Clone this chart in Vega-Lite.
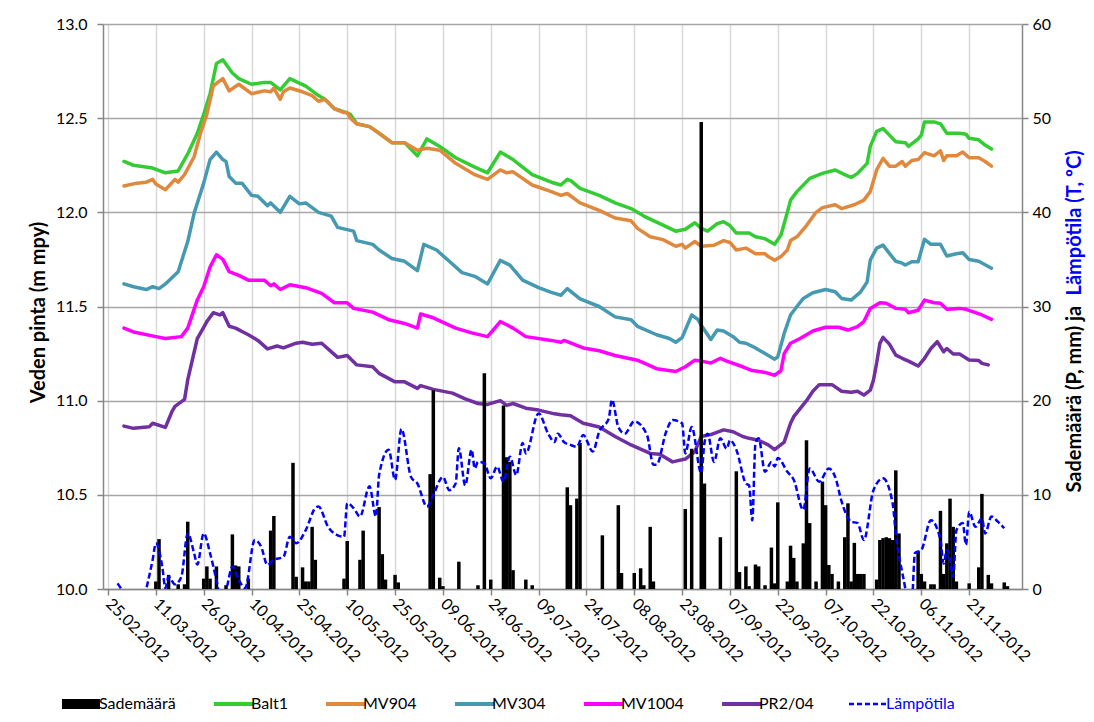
{
"$schema":"https://vega.github.io/schema/vega-lite/v6.json",
"width":919,"height":565,
"autosize":{"type":"none"},
"padding":{"left":103,"top":24,"right":72,"bottom":133},
"background":"white",
"config":{
 "font":"Lato",
 "view":{"stroke":null},
 "axis":{"labelFont":"Lato","labelFontSize":16,"labelColor":"#000000","titleFont":"Lato","titleFontSize":20,"titleFontWeight":"bold","titleColor":"#000000","domainColor":"#868686","domainWidth":1.5,"tickColor":"#868686","tickWidth":1.5,"tickSize":6},
 "legend":{"labelFont":"Lato","labelFontSize":16,"labelColor":"#000000"}
},
"datasets":{
"lvl":[
{"d":"2012-03-01","s":"Balt1","v":12.27},{"d":"2012-03-04","s":"Balt1","v":12.25},{"d":"2012-03-10","s":"Balt1","v":12.235},{"d":"2012-03-14","s":"Balt1","v":12.21},{"d":"2012-03-18","s":"Balt1","v":12.22},{"d":"2012-03-21","s":"Balt1","v":12.31},{"d":"2012-03-24","s":"Balt1","v":12.42},{"d":"2012-03-26","s":"Balt1","v":12.52},{"d":"2012-03-28","s":"Balt1","v":12.63},{"d":"2012-03-30","s":"Balt1","v":12.79},{"d":"2012-04-01","s":"Balt1","v":12.81},{"d":"2012-04-04","s":"Balt1","v":12.74},{"d":"2012-04-06","s":"Balt1","v":12.71},{"d":"2012-04-10","s":"Balt1","v":12.68},{"d":"2012-04-14","s":"Balt1","v":12.69},{"d":"2012-04-16","s":"Balt1","v":12.69},{"d":"2012-04-19","s":"Balt1","v":12.65},{"d":"2012-04-22","s":"Balt1","v":12.71},{"d":"2012-04-27","s":"Balt1","v":12.67},{"d":"2012-05-01","s":"Balt1","v":12.62},{"d":"2012-05-03","s":"Balt1","v":12.6},{"d":"2012-05-06","s":"Balt1","v":12.55},{"d":"2012-05-08","s":"Balt1","v":12.54},{"d":"2012-05-11","s":"Balt1","v":12.52},{"d":"2012-05-13","s":"Balt1","v":12.47},{"d":"2012-05-17","s":"Balt1","v":12.455},{"d":"2012-05-20","s":"Balt1","v":12.42},{"d":"2012-05-24","s":"Balt1","v":12.37},{"d":"2012-05-28","s":"Balt1","v":12.37},{"d":"2012-06-01","s":"Balt1","v":12.3},{"d":"2012-06-04","s":"Balt1","v":12.39},{"d":"2012-06-08","s":"Balt1","v":12.35},{"d":"2012-06-13","s":"Balt1","v":12.29},{"d":"2012-06-19","s":"Balt1","v":12.24},{"d":"2012-06-23","s":"Balt1","v":12.21},{"d":"2012-06-27","s":"Balt1","v":12.32},{"d":"2012-07-01","s":"Balt1","v":12.28},{"d":"2012-07-07","s":"Balt1","v":12.2},{"d":"2012-07-13","s":"Balt1","v":12.16},{"d":"2012-07-16","s":"Balt1","v":12.145},{"d":"2012-07-18","s":"Balt1","v":12.175},{"d":"2012-07-19","s":"Balt1","v":12.17},{"d":"2012-07-22","s":"Balt1","v":12.127},{"d":"2012-07-28","s":"Balt1","v":12.09},{"d":"2012-08-02","s":"Balt1","v":12.05},{"d":"2012-08-07","s":"Balt1","v":12.02},{"d":"2012-08-11","s":"Balt1","v":11.98},{"d":"2012-08-16","s":"Balt1","v":11.94},{"d":"2012-08-21","s":"Balt1","v":11.9},{"d":"2012-08-24","s":"Balt1","v":11.91},{"d":"2012-08-27","s":"Balt1","v":11.945},{"d":"2012-08-29","s":"Balt1","v":11.915},{"d":"2012-08-31","s":"Balt1","v":11.9},{"d":"2012-09-03","s":"Balt1","v":11.94},{"d":"2012-09-05","s":"Balt1","v":11.95},{"d":"2012-09-07","s":"Balt1","v":11.93},{"d":"2012-09-09","s":"Balt1","v":11.89},{"d":"2012-09-13","s":"Balt1","v":11.89},{"d":"2012-09-15","s":"Balt1","v":11.87},{"d":"2012-09-18","s":"Balt1","v":11.86},{"d":"2012-09-21","s":"Balt1","v":11.83},{"d":"2012-09-23","s":"Balt1","v":11.88},{"d":"2012-09-25","s":"Balt1","v":12.0},{"d":"2012-09-26","s":"Balt1","v":12.065},{"d":"2012-09-28","s":"Balt1","v":12.11},{"d":"2012-10-02","s":"Balt1","v":12.18},{"d":"2012-10-06","s":"Balt1","v":12.207},{"d":"2012-10-10","s":"Balt1","v":12.225},{"d":"2012-10-13","s":"Balt1","v":12.2},{"d":"2012-10-15","s":"Balt1","v":12.185},{"d":"2012-10-17","s":"Balt1","v":12.207},{"d":"2012-10-20","s":"Balt1","v":12.26},{"d":"2012-10-21","s":"Balt1","v":12.35},{"d":"2012-10-23","s":"Balt1","v":12.43},{"d":"2012-10-25","s":"Balt1","v":12.445},{"d":"2012-10-27","s":"Balt1","v":12.41},{"d":"2012-10-29","s":"Balt1","v":12.375},{"d":"2012-11-01","s":"Balt1","v":12.37},{"d":"2012-11-02","s":"Balt1","v":12.35},{"d":"2012-11-05","s":"Balt1","v":12.39},{"d":"2012-11-06","s":"Balt1","v":12.41},{"d":"2012-11-07","s":"Balt1","v":12.48},{"d":"2012-11-10","s":"Balt1","v":12.48},{"d":"2012-11-12","s":"Balt1","v":12.47},{"d":"2012-11-14","s":"Balt1","v":12.42},{"d":"2012-11-18","s":"Balt1","v":12.42},{"d":"2012-11-20","s":"Balt1","v":12.415},{"d":"2012-11-21","s":"Balt1","v":12.393},{"d":"2012-11-24","s":"Balt1","v":12.385},{"d":"2012-11-26","s":"Balt1","v":12.357},{"d":"2012-11-28","s":"Balt1","v":12.336},
{"d":"2012-03-01","s":"MV904","v":12.14},{"d":"2012-03-05","s":"MV904","v":12.155},{"d":"2012-03-08","s":"MV904","v":12.16},{"d":"2012-03-10","s":"MV904","v":12.175},{"d":"2012-03-11","s":"MV904","v":12.15},{"d":"2012-03-14","s":"MV904","v":12.12},{"d":"2012-03-17","s":"MV904","v":12.175},{"d":"2012-03-18","s":"MV904","v":12.16},{"d":"2012-03-20","s":"MV904","v":12.2},{"d":"2012-03-23","s":"MV904","v":12.295},{"d":"2012-03-25","s":"MV904","v":12.42},{"d":"2012-03-27","s":"MV904","v":12.52},{"d":"2012-03-29","s":"MV904","v":12.67},{"d":"2012-03-30","s":"MV904","v":12.685},{"d":"2012-04-01","s":"MV904","v":12.71},{"d":"2012-04-03","s":"MV904","v":12.645},{"d":"2012-04-06","s":"MV904","v":12.68},{"d":"2012-04-10","s":"MV904","v":12.63},{"d":"2012-04-14","s":"MV904","v":12.645},{"d":"2012-04-16","s":"MV904","v":12.64},{"d":"2012-04-17","s":"MV904","v":12.66},{"d":"2012-04-19","s":"MV904","v":12.6},{"d":"2012-04-20","s":"MV904","v":12.64},{"d":"2012-04-22","s":"MV904","v":12.66},{"d":"2012-04-26","s":"MV904","v":12.64},{"d":"2012-04-29","s":"MV904","v":12.62},{"d":"2012-05-01","s":"MV904","v":12.59},{"d":"2012-05-03","s":"MV904","v":12.6},{"d":"2012-05-06","s":"MV904","v":12.55},{"d":"2012-05-09","s":"MV904","v":12.53},{"d":"2012-05-10","s":"MV904","v":12.53},{"d":"2012-05-11","s":"MV904","v":12.5},{"d":"2012-05-13","s":"MV904","v":12.47},{"d":"2012-05-17","s":"MV904","v":12.455},{"d":"2012-05-20","s":"MV904","v":12.42},{"d":"2012-05-24","s":"MV904","v":12.37},{"d":"2012-05-28","s":"MV904","v":12.37},{"d":"2012-06-01","s":"MV904","v":12.33},{"d":"2012-06-04","s":"MV904","v":12.34},{"d":"2012-06-08","s":"MV904","v":12.33},{"d":"2012-06-13","s":"MV904","v":12.26},{"d":"2012-06-19","s":"MV904","v":12.2},{"d":"2012-06-23","s":"MV904","v":12.175},{"d":"2012-06-27","s":"MV904","v":12.225},{"d":"2012-06-29","s":"MV904","v":12.21},{"d":"2012-07-01","s":"MV904","v":12.215},{"d":"2012-07-07","s":"MV904","v":12.145},{"d":"2012-07-13","s":"MV904","v":12.11},{"d":"2012-07-16","s":"MV904","v":12.09},{"d":"2012-07-18","s":"MV904","v":12.1},{"d":"2012-07-22","s":"MV904","v":12.05},{"d":"2012-07-28","s":"MV904","v":12.01},{"d":"2012-08-02","s":"MV904","v":11.97},{"d":"2012-08-07","s":"MV904","v":11.955},{"d":"2012-08-09","s":"MV904","v":11.915},{"d":"2012-08-13","s":"MV904","v":11.87},{"d":"2012-08-17","s":"MV904","v":11.855},{"d":"2012-08-21","s":"MV904","v":11.82},{"d":"2012-08-23","s":"MV904","v":11.83},{"d":"2012-08-24","s":"MV904","v":11.81},{"d":"2012-08-27","s":"MV904","v":11.845},{"d":"2012-08-29","s":"MV904","v":11.82},{"d":"2012-09-02","s":"MV904","v":11.825},{"d":"2012-09-05","s":"MV904","v":11.85},{"d":"2012-09-07","s":"MV904","v":11.84},{"d":"2012-09-09","s":"MV904","v":11.8},{"d":"2012-09-12","s":"MV904","v":11.81},{"d":"2012-09-15","s":"MV904","v":11.78},{"d":"2012-09-18","s":"MV904","v":11.78},{"d":"2012-09-19","s":"MV904","v":11.765},{"d":"2012-09-21","s":"MV904","v":11.745},{"d":"2012-09-23","s":"MV904","v":11.765},{"d":"2012-09-25","s":"MV904","v":11.8},{"d":"2012-09-26","s":"MV904","v":11.85},{"d":"2012-09-28","s":"MV904","v":11.87},{"d":"2012-09-29","s":"MV904","v":11.89},{"d":"2012-10-01","s":"MV904","v":11.93},{"d":"2012-10-04","s":"MV904","v":12.0},{"d":"2012-10-06","s":"MV904","v":12.025},{"d":"2012-10-10","s":"MV904","v":12.04},{"d":"2012-10-12","s":"MV904","v":12.02},{"d":"2012-10-16","s":"MV904","v":12.04},{"d":"2012-10-19","s":"MV904","v":12.065},{"d":"2012-10-21","s":"MV904","v":12.11},{"d":"2012-10-23","s":"MV904","v":12.225},{"d":"2012-10-25","s":"MV904","v":12.287},{"d":"2012-10-27","s":"MV904","v":12.245},{"d":"2012-10-29","s":"MV904","v":12.245},{"d":"2012-10-31","s":"MV904","v":12.27},{"d":"2012-11-01","s":"MV904","v":12.245},{"d":"2012-11-03","s":"MV904","v":12.275},{"d":"2012-11-05","s":"MV904","v":12.28},{"d":"2012-11-07","s":"MV904","v":12.317},{"d":"2012-11-10","s":"MV904","v":12.3},{"d":"2012-11-12","s":"MV904","v":12.327},{"d":"2012-11-13","s":"MV904","v":12.275},{"d":"2012-11-14","s":"MV904","v":12.3},{"d":"2012-11-17","s":"MV904","v":12.3},{"d":"2012-11-19","s":"MV904","v":12.32},{"d":"2012-11-21","s":"MV904","v":12.29},{"d":"2012-11-24","s":"MV904","v":12.29},{"d":"2012-11-26","s":"MV904","v":12.27},{"d":"2012-11-28","s":"MV904","v":12.245},
{"d":"2012-03-01","s":"MV304","v":11.62},{"d":"2012-03-04","s":"MV304","v":11.605},{"d":"2012-03-08","s":"MV304","v":11.59},{"d":"2012-03-10","s":"MV304","v":11.605},{"d":"2012-03-12","s":"MV304","v":11.595},{"d":"2012-03-14","s":"MV304","v":11.62},{"d":"2012-03-18","s":"MV304","v":11.685},{"d":"2012-03-21","s":"MV304","v":11.845},{"d":"2012-03-23","s":"MV304","v":11.995},{"d":"2012-03-26","s":"MV304","v":12.155},{"d":"2012-03-28","s":"MV304","v":12.28},{"d":"2012-03-30","s":"MV304","v":12.32},{"d":"2012-04-01","s":"MV304","v":12.28},{"d":"2012-04-02","s":"MV304","v":12.27},{"d":"2012-04-03","s":"MV304","v":12.19},{"d":"2012-04-05","s":"MV304","v":12.155},{"d":"2012-04-07","s":"MV304","v":12.155},{"d":"2012-04-10","s":"MV304","v":12.09},{"d":"2012-04-12","s":"MV304","v":12.085},{"d":"2012-04-15","s":"MV304","v":12.035},{"d":"2012-04-16","s":"MV304","v":12.05},{"d":"2012-04-19","s":"MV304","v":12.0},{"d":"2012-04-22","s":"MV304","v":12.085},{"d":"2012-04-25","s":"MV304","v":12.045},{"d":"2012-04-27","s":"MV304","v":12.05},{"d":"2012-05-01","s":"MV304","v":12.0},{"d":"2012-05-05","s":"MV304","v":11.98},{"d":"2012-05-07","s":"MV304","v":11.92},{"d":"2012-05-12","s":"MV304","v":11.9},{"d":"2012-05-13","s":"MV304","v":11.85},{"d":"2012-05-18","s":"MV304","v":11.83},{"d":"2012-05-20","s":"MV304","v":11.8},{"d":"2012-05-24","s":"MV304","v":11.755},{"d":"2012-05-28","s":"MV304","v":11.74},{"d":"2012-06-01","s":"MV304","v":11.69},{"d":"2012-06-03","s":"MV304","v":11.83},{"d":"2012-06-07","s":"MV304","v":11.8},{"d":"2012-06-11","s":"MV304","v":11.74},{"d":"2012-06-15","s":"MV304","v":11.68},{"d":"2012-06-19","s":"MV304","v":11.66},{"d":"2012-06-23","s":"MV304","v":11.62},{"d":"2012-06-27","s":"MV304","v":11.745},{"d":"2012-06-30","s":"MV304","v":11.72},{"d":"2012-07-04","s":"MV304","v":11.64},{"d":"2012-07-09","s":"MV304","v":11.6},{"d":"2012-07-13","s":"MV304","v":11.575},{"d":"2012-07-16","s":"MV304","v":11.56},{"d":"2012-07-18","s":"MV304","v":11.595},{"d":"2012-07-22","s":"MV304","v":11.54},{"d":"2012-07-28","s":"MV304","v":11.5},{"d":"2012-08-02","s":"MV304","v":11.445},{"d":"2012-08-07","s":"MV304","v":11.43},{"d":"2012-08-09","s":"MV304","v":11.395},{"d":"2012-08-15","s":"MV304","v":11.35},{"d":"2012-08-19","s":"MV304","v":11.33},{"d":"2012-08-21","s":"MV304","v":11.31},{"d":"2012-08-23","s":"MV304","v":11.335},{"d":"2012-08-26","s":"MV304","v":11.455},{"d":"2012-08-28","s":"MV304","v":11.43},{"d":"2012-08-29","s":"MV304","v":11.4},{"d":"2012-09-01","s":"MV304","v":11.325},{"d":"2012-09-03","s":"MV304","v":11.375},{"d":"2012-09-05","s":"MV304","v":11.37},{"d":"2012-09-08","s":"MV304","v":11.34},{"d":"2012-09-10","s":"MV304","v":11.31},{"d":"2012-09-12","s":"MV304","v":11.305},{"d":"2012-09-15","s":"MV304","v":11.28},{"d":"2012-09-18","s":"MV304","v":11.25},{"d":"2012-09-21","s":"MV304","v":11.22},{"d":"2012-09-22","s":"MV304","v":11.233},{"d":"2012-09-24","s":"MV304","v":11.357},{"d":"2012-09-26","s":"MV304","v":11.455},{"d":"2012-09-28","s":"MV304","v":11.5},{"d":"2012-09-30","s":"MV304","v":11.543},{"d":"2012-10-03","s":"MV304","v":11.573},{"d":"2012-10-07","s":"MV304","v":11.59},{"d":"2012-10-10","s":"MV304","v":11.578},{"d":"2012-10-12","s":"MV304","v":11.543},{"d":"2012-10-15","s":"MV304","v":11.534},{"d":"2012-10-18","s":"MV304","v":11.578},{"d":"2012-10-20","s":"MV304","v":11.63},{"d":"2012-10-21","s":"MV304","v":11.747},{"d":"2012-10-23","s":"MV304","v":11.81},{"d":"2012-10-25","s":"MV304","v":11.826},{"d":"2012-10-27","s":"MV304","v":11.782},{"d":"2012-10-29","s":"MV304","v":11.74},{"d":"2012-10-31","s":"MV304","v":11.73},{"d":"2012-11-01","s":"MV304","v":11.72},{"d":"2012-11-03","s":"MV304","v":11.738},{"d":"2012-11-05","s":"MV304","v":11.738},{"d":"2012-11-07","s":"MV304","v":11.857},{"d":"2012-11-09","s":"MV304","v":11.83},{"d":"2012-11-12","s":"MV304","v":11.83},{"d":"2012-11-14","s":"MV304","v":11.768},{"d":"2012-11-17","s":"MV304","v":11.78},{"d":"2012-11-19","s":"MV304","v":11.785},{"d":"2012-11-21","s":"MV304","v":11.75},{"d":"2012-11-24","s":"MV304","v":11.74},{"d":"2012-11-28","s":"MV304","v":11.703},
{"d":"2012-03-01","s":"MV1004","v":11.385},{"d":"2012-03-04","s":"MV1004","v":11.365},{"d":"2012-03-11","s":"MV1004","v":11.34},{"d":"2012-03-14","s":"MV1004","v":11.33},{"d":"2012-03-19","s":"MV1004","v":11.34},{"d":"2012-03-21","s":"MV1004","v":11.385},{"d":"2012-03-24","s":"MV1004","v":11.535},{"d":"2012-03-26","s":"MV1004","v":11.605},{"d":"2012-03-28","s":"MV1004","v":11.71},{"d":"2012-03-30","s":"MV1004","v":11.775},{"d":"2012-04-01","s":"MV1004","v":11.75},{"d":"2012-04-03","s":"MV1004","v":11.685},{"d":"2012-04-06","s":"MV1004","v":11.665},{"d":"2012-04-09","s":"MV1004","v":11.64},{"d":"2012-04-14","s":"MV1004","v":11.64},{"d":"2012-04-16","s":"MV1004","v":11.61},{"d":"2012-04-17","s":"MV1004","v":11.62},{"d":"2012-04-19","s":"MV1004","v":11.59},{"d":"2012-04-22","s":"MV1004","v":11.615},{"d":"2012-04-27","s":"MV1004","v":11.6},{"d":"2012-05-02","s":"MV1004","v":11.57},{"d":"2012-05-06","s":"MV1004","v":11.52},{"d":"2012-05-10","s":"MV1004","v":11.52},{"d":"2012-05-12","s":"MV1004","v":11.49},{"d":"2012-05-18","s":"MV1004","v":11.47},{"d":"2012-05-23","s":"MV1004","v":11.43},{"d":"2012-05-28","s":"MV1004","v":11.41},{"d":"2012-06-01","s":"MV1004","v":11.385},{"d":"2012-06-02","s":"MV1004","v":11.46},{"d":"2012-06-06","s":"MV1004","v":11.44},{"d":"2012-06-13","s":"MV1004","v":11.385},{"d":"2012-06-18","s":"MV1004","v":11.36},{"d":"2012-06-23","s":"MV1004","v":11.34},{"d":"2012-06-27","s":"MV1004","v":11.42},{"d":"2012-07-01","s":"MV1004","v":11.385},{"d":"2012-07-05","s":"MV1004","v":11.34},{"d":"2012-07-13","s":"MV1004","v":11.32},{"d":"2012-07-16","s":"MV1004","v":11.31},{"d":"2012-07-17","s":"MV1004","v":11.32},{"d":"2012-07-23","s":"MV1004","v":11.28},{"d":"2012-07-28","s":"MV1004","v":11.265},{"d":"2012-08-02","s":"MV1004","v":11.24},{"d":"2012-08-09","s":"MV1004","v":11.215},{"d":"2012-08-15","s":"MV1004","v":11.17},{"d":"2012-08-21","s":"MV1004","v":11.155},{"d":"2012-08-24","s":"MV1004","v":11.18},{"d":"2012-08-27","s":"MV1004","v":11.215},{"d":"2012-08-29","s":"MV1004","v":11.21},{"d":"2012-09-01","s":"MV1004","v":11.2},{"d":"2012-09-04","s":"MV1004","v":11.225},{"d":"2012-09-06","s":"MV1004","v":11.21},{"d":"2012-09-11","s":"MV1004","v":11.18},{"d":"2012-09-14","s":"MV1004","v":11.16},{"d":"2012-09-18","s":"MV1004","v":11.15},{"d":"2012-09-21","s":"MV1004","v":11.135},{"d":"2012-09-23","s":"MV1004","v":11.16},{"d":"2012-09-24","s":"MV1004","v":11.25},{"d":"2012-09-26","s":"MV1004","v":11.305},{"d":"2012-09-29","s":"MV1004","v":11.33},{"d":"2012-10-03","s":"MV1004","v":11.37},{"d":"2012-10-07","s":"MV1004","v":11.39},{"d":"2012-10-11","s":"MV1004","v":11.39},{"d":"2012-10-14","s":"MV1004","v":11.375},{"d":"2012-10-17","s":"MV1004","v":11.393},{"d":"2012-10-19","s":"MV1004","v":11.42},{"d":"2012-10-21","s":"MV1004","v":11.49},{"d":"2012-10-24","s":"MV1004","v":11.52},{"d":"2012-10-26","s":"MV1004","v":11.517},{"d":"2012-10-29","s":"MV1004","v":11.49},{"d":"2012-11-01","s":"MV1004","v":11.485},{"d":"2012-11-02","s":"MV1004","v":11.467},{"d":"2012-11-05","s":"MV1004","v":11.48},{"d":"2012-11-07","s":"MV1004","v":11.534},{"d":"2012-11-10","s":"MV1004","v":11.52},{"d":"2012-11-12","s":"MV1004","v":11.517},{"d":"2012-11-14","s":"MV1004","v":11.485},{"d":"2012-11-18","s":"MV1004","v":11.49},{"d":"2012-11-20","s":"MV1004","v":11.485},{"d":"2012-11-23","s":"MV1004","v":11.467},{"d":"2012-11-25","s":"MV1004","v":11.455},{"d":"2012-11-28","s":"MV1004","v":11.432},
{"d":"2012-03-01","s":"PR2/04","v":10.865},{"d":"2012-03-04","s":"PR2/04","v":10.853},{"d":"2012-03-09","s":"PR2/04","v":10.862},{"d":"2012-03-10","s":"PR2/04","v":10.88},{"d":"2012-03-14","s":"PR2/04","v":10.858},{"d":"2012-03-16","s":"PR2/04","v":10.94},{"d":"2012-03-17","s":"PR2/04","v":10.97},{"d":"2012-03-20","s":"PR2/04","v":11.007},{"d":"2012-03-21","s":"PR2/04","v":11.11},{"d":"2012-03-24","s":"PR2/04","v":11.33},{"d":"2012-03-27","s":"PR2/04","v":11.42},{"d":"2012-03-29","s":"PR2/04","v":11.467},{"d":"2012-03-31","s":"PR2/04","v":11.455},{"d":"2012-04-01","s":"PR2/04","v":11.467},{"d":"2012-04-03","s":"PR2/04","v":11.395},{"d":"2012-04-05","s":"PR2/04","v":11.385},{"d":"2012-04-09","s":"PR2/04","v":11.35},{"d":"2012-04-12","s":"PR2/04","v":11.32},{"d":"2012-04-15","s":"PR2/04","v":11.275},{"d":"2012-04-18","s":"PR2/04","v":11.29},{"d":"2012-04-20","s":"PR2/04","v":11.28},{"d":"2012-04-24","s":"PR2/04","v":11.305},{"d":"2012-04-26","s":"PR2/04","v":11.31},{"d":"2012-04-29","s":"PR2/04","v":11.3},{"d":"2012-05-02","s":"PR2/04","v":11.305},{"d":"2012-05-07","s":"PR2/04","v":11.23},{"d":"2012-05-10","s":"PR2/04","v":11.24},{"d":"2012-05-13","s":"PR2/04","v":11.19},{"d":"2012-05-18","s":"PR2/04","v":11.18},{"d":"2012-05-20","s":"PR2/04","v":11.145},{"d":"2012-05-25","s":"PR2/04","v":11.1},{"d":"2012-05-28","s":"PR2/04","v":11.1},{"d":"2012-06-01","s":"PR2/04","v":11.065},{"d":"2012-06-02","s":"PR2/04","v":11.08},{"d":"2012-06-06","s":"PR2/04","v":11.06},{"d":"2012-06-12","s":"PR2/04","v":11.04},{"d":"2012-06-16","s":"PR2/04","v":11.01},{"d":"2012-06-20","s":"PR2/04","v":10.985},{"d":"2012-06-23","s":"PR2/04","v":10.98},{"d":"2012-06-27","s":"PR2/04","v":11.0},{"d":"2012-06-29","s":"PR2/04","v":10.975},{"d":"2012-07-01","s":"PR2/04","v":10.985},{"d":"2012-07-05","s":"PR2/04","v":10.96},{"d":"2012-07-09","s":"PR2/04","v":10.95},{"d":"2012-07-14","s":"PR2/04","v":10.93},{"d":"2012-07-16","s":"PR2/04","v":10.925},{"d":"2012-07-19","s":"PR2/04","v":10.92},{"d":"2012-07-23","s":"PR2/04","v":10.88},{"d":"2012-07-28","s":"PR2/04","v":10.86},{"d":"2012-08-02","s":"PR2/04","v":10.81},{"d":"2012-08-07","s":"PR2/04","v":10.765},{"d":"2012-08-13","s":"PR2/04","v":10.72},{"d":"2012-08-16","s":"PR2/04","v":10.715},{"d":"2012-08-20","s":"PR2/04","v":10.675},{"d":"2012-08-24","s":"PR2/04","v":10.69},{"d":"2012-08-27","s":"PR2/04","v":10.73},{"d":"2012-08-29","s":"PR2/04","v":10.81},{"d":"2012-09-01","s":"PR2/04","v":10.82},{"d":"2012-09-05","s":"PR2/04","v":10.845},{"d":"2012-09-08","s":"PR2/04","v":10.835},{"d":"2012-09-11","s":"PR2/04","v":10.81},{"d":"2012-09-13","s":"PR2/04","v":10.8},{"d":"2012-09-16","s":"PR2/04","v":10.79},{"d":"2012-09-19","s":"PR2/04","v":10.765},{"d":"2012-09-21","s":"PR2/04","v":10.74},{"d":"2012-09-24","s":"PR2/04","v":10.78},{"d":"2012-09-26","s":"PR2/04","v":10.88},{"d":"2012-09-27","s":"PR2/04","v":10.915},{"d":"2012-10-01","s":"PR2/04","v":11.0},{"d":"2012-10-03","s":"PR2/04","v":11.05},{"d":"2012-10-05","s":"PR2/04","v":11.085},{"d":"2012-10-09","s":"PR2/04","v":11.085},{"d":"2012-10-12","s":"PR2/04","v":11.05},{"d":"2012-10-15","s":"PR2/04","v":11.045},{"d":"2012-10-17","s":"PR2/04","v":11.05},{"d":"2012-10-19","s":"PR2/04","v":11.03},{"d":"2012-10-21","s":"PR2/04","v":11.056},{"d":"2012-10-22","s":"PR2/04","v":11.11},{"d":"2012-10-23","s":"PR2/04","v":11.2},{"d":"2012-10-24","s":"PR2/04","v":11.304},{"d":"2012-10-25","s":"PR2/04","v":11.336},{"d":"2012-10-27","s":"PR2/04","v":11.3},{"d":"2012-10-29","s":"PR2/04","v":11.242},{"d":"2012-10-31","s":"PR2/04","v":11.225},{"d":"2012-11-02","s":"PR2/04","v":11.21},{"d":"2012-11-05","s":"PR2/04","v":11.184},{"d":"2012-11-07","s":"PR2/04","v":11.225},{"d":"2012-11-09","s":"PR2/04","v":11.277},{"d":"2012-11-11","s":"PR2/04","v":11.313},{"d":"2012-11-13","s":"PR2/04","v":11.26},{"d":"2012-11-14","s":"PR2/04","v":11.277},{"d":"2012-11-16","s":"PR2/04","v":11.248},{"d":"2012-11-18","s":"PR2/04","v":11.248},{"d":"2012-11-21","s":"PR2/04","v":11.216},{"d":"2012-11-24","s":"PR2/04","v":11.213},{"d":"2012-11-25","s":"PR2/04","v":11.198},{"d":"2012-11-27","s":"PR2/04","v":11.19}
],
"rain":[
{"d":"2012-03-11","s":"Sademäärä","p":0.8},{"d":"2012-03-12","s":"Sademäärä","p":5.3},{"d":"2012-03-15","s":"Sademäärä","p":1.5},{"d":"2012-03-18","s":"Sademäärä","p":0.5},{"d":"2012-03-20","s":"Sademäärä","p":0.5},{"d":"2012-03-21","s":"Sademäärä","p":7.15},{"d":"2012-03-26","s":"Sademäärä","p":1.1},{"d":"2012-03-27","s":"Sademäärä","p":2.4},{"d":"2012-03-28","s":"Sademäärä","p":1.1},{"d":"2012-03-30","s":"Sademäärä","p":2.4},{"d":"2012-04-02","s":"Sademäärä","p":0.4},{"d":"2012-04-04","s":"Sademäärä","p":5.8},{"d":"2012-04-05","s":"Sademäärä","p":2.5},{"d":"2012-04-06","s":"Sademäärä","p":2.4},{"d":"2012-04-09","s":"Sademäärä","p":1.1},{"d":"2012-04-16","s":"Sademäärä","p":6.2},{"d":"2012-04-17","s":"Sademäärä","p":7.75},{"d":"2012-04-23","s":"Sademäärä","p":13.4},{"d":"2012-04-24","s":"Sademäärä","p":1.3},{"d":"2012-04-26","s":"Sademäärä","p":2.3},{"d":"2012-04-27","s":"Sademäärä","p":0.8},{"d":"2012-04-28","s":"Sademäärä","p":0.8},{"d":"2012-04-29","s":"Sademäärä","p":6.6},{"d":"2012-04-30","s":"Sademäärä","p":3.1},{"d":"2012-05-09","s":"Sademäärä","p":1.1},{"d":"2012-05-10","s":"Sademäärä","p":5.1},{"d":"2012-05-14","s":"Sademäärä","p":3.1},{"d":"2012-05-15","s":"Sademäärä","p":6.2},{"d":"2012-05-20","s":"Sademäärä","p":8.7},{"d":"2012-05-21","s":"Sademäärä","p":3.7},{"d":"2012-05-22","s":"Sademäärä","p":1.0},{"d":"2012-05-25","s":"Sademäärä","p":1.5},{"d":"2012-05-26","s":"Sademäärä","p":0.7},{"d":"2012-06-05","s":"Sademäärä","p":12.2},{"d":"2012-06-06","s":"Sademäärä","p":21.1},{"d":"2012-06-08","s":"Sademäärä","p":1.2},{"d":"2012-06-09","s":"Sademäärä","p":0.3},{"d":"2012-06-14","s":"Sademäärä","p":2.9},{"d":"2012-06-20","s":"Sademäärä","p":0.4},{"d":"2012-06-22","s":"Sademäärä","p":22.9},{"d":"2012-06-24","s":"Sademäärä","p":1.0},{"d":"2012-06-28","s":"Sademäärä","p":19.5},{"d":"2012-06-29","s":"Sademäärä","p":14.0},{"d":"2012-06-30","s":"Sademäärä","p":13.5},{"d":"2012-07-01","s":"Sademäärä","p":2.0},{"d":"2012-07-05","s":"Sademäärä","p":1.0},{"d":"2012-07-07","s":"Sademäärä","p":0.4},{"d":"2012-07-18","s":"Sademäärä","p":10.8},{"d":"2012-07-19","s":"Sademäärä","p":8.9},{"d":"2012-07-21","s":"Sademäärä","p":9.6},{"d":"2012-07-22","s":"Sademäärä","p":15.5},{"d":"2012-07-29","s":"Sademäärä","p":5.7},{"d":"2012-08-03","s":"Sademäärä","p":8.9},{"d":"2012-08-04","s":"Sademäärä","p":1.7},{"d":"2012-08-08","s":"Sademäärä","p":1.7},{"d":"2012-08-10","s":"Sademäärä","p":2.2},{"d":"2012-08-11","s":"Sademäärä","p":0.4},{"d":"2012-08-13","s":"Sademäärä","p":6.6},{"d":"2012-08-14","s":"Sademäärä","p":0.8},{"d":"2012-08-24","s":"Sademäärä","p":8.5},{"d":"2012-08-26","s":"Sademäärä","p":14.9},{"d":"2012-08-29","s":"Sademäärä","p":49.6},{"d":"2012-08-30","s":"Sademäärä","p":11.2},{"d":"2012-09-04","s":"Sademäärä","p":5.5},{"d":"2012-09-09","s":"Sademäärä","p":12.5},{"d":"2012-09-10","s":"Sademäärä","p":1.8},{"d":"2012-09-12","s":"Sademäärä","p":2.4},{"d":"2012-09-13","s":"Sademäärä","p":0.3},{"d":"2012-09-15","s":"Sademäärä","p":2.6},{"d":"2012-09-16","s":"Sademäärä","p":2.4},{"d":"2012-09-18","s":"Sademäärä","p":0.4},{"d":"2012-09-20","s":"Sademäärä","p":4.4},{"d":"2012-09-21","s":"Sademäärä","p":0.6},{"d":"2012-09-22","s":"Sademäärä","p":9.2},{"d":"2012-09-25","s":"Sademäärä","p":0.8},{"d":"2012-09-26","s":"Sademäärä","p":4.6},{"d":"2012-09-27","s":"Sademäärä","p":3.3},{"d":"2012-09-28","s":"Sademäärä","p":0.8},{"d":"2012-09-30","s":"Sademäärä","p":4.85},{"d":"2012-10-01","s":"Sademäärä","p":15.8},{"d":"2012-10-02","s":"Sademäärä","p":7.0},{"d":"2012-10-04","s":"Sademäärä","p":0.8},{"d":"2012-10-06","s":"Sademäärä","p":11.4},{"d":"2012-10-07","s":"Sademäärä","p":8.9},{"d":"2012-10-08","s":"Sademäärä","p":2.55},{"d":"2012-10-09","s":"Sademäärä","p":1.6},{"d":"2012-10-11","s":"Sademäärä","p":0.8},{"d":"2012-10-13","s":"Sademäärä","p":5.5},{"d":"2012-10-14","s":"Sademäärä","p":9.1},{"d":"2012-10-15","s":"Sademäärä","p":0.8},{"d":"2012-10-16","s":"Sademäärä","p":4.9},{"d":"2012-10-17","s":"Sademäärä","p":1.6},{"d":"2012-10-18","s":"Sademäärä","p":1.6},{"d":"2012-10-19","s":"Sademäärä","p":1.6},{"d":"2012-10-23","s":"Sademäärä","p":1.0},{"d":"2012-10-24","s":"Sademäärä","p":5.2},{"d":"2012-10-25","s":"Sademäärä","p":5.4},{"d":"2012-10-26","s":"Sademäärä","p":5.5},{"d":"2012-10-27","s":"Sademäärä","p":5.4},{"d":"2012-10-28","s":"Sademäärä","p":5.2},{"d":"2012-10-29","s":"Sademäärä","p":12.6},{"d":"2012-10-30","s":"Sademäärä","p":5.9},{"d":"2012-11-05","s":"Sademäärä","p":4.0},{"d":"2012-11-06","s":"Sademäärä","p":1.6},{"d":"2012-11-07","s":"Sademäärä","p":0.8},{"d":"2012-11-09","s":"Sademäärä","p":0.5},{"d":"2012-11-10","s":"Sademäärä","p":0.5},{"d":"2012-11-12","s":"Sademäärä","p":8.3},{"d":"2012-11-13","s":"Sademäärä","p":1.6},{"d":"2012-11-14","s":"Sademäärä","p":4.85},{"d":"2012-11-15","s":"Sademäärä","p":9.6},{"d":"2012-11-16","s":"Sademäärä","p":6.6},{"d":"2012-11-17","s":"Sademäärä","p":0.8},{"d":"2012-11-21","s":"Sademäärä","p":0.6},{"d":"2012-11-24","s":"Sademäärä","p":2.3},{"d":"2012-11-25","s":"Sademäärä","p":10.1},{"d":"2012-11-27","s":"Sademäärä","p":1.5},{"d":"2012-11-28","s":"Sademäärä","p":0.6},{"d":"2012-12-02","s":"Sademäärä","p":0.7},{"d":"2012-12-03","s":"Sademäärä","p":0.3}
],
"temp":[
{"d":"2012-02-28","s":"Lämpötila","t":0.6},{"d":"2012-03-01","s":"Lämpötila","t":-0.5},{"d":"2012-03-04","s":"Lämpötila","t":-3},{"d":"2012-03-07","s":"Lämpötila","t":-1.5},{"d":"2012-03-08","s":"Lämpötila","t":0},{"d":"2012-03-10","s":"Lämpötila","t":3.1},{"d":"2012-03-11","s":"Lämpötila","t":4.85},{"d":"2012-03-13","s":"Lämpötila","t":2.4},{"d":"2012-03-14","s":"Lämpötila","t":0.1},{"d":"2012-03-15","s":"Lämpötila","t":1.3},{"d":"2012-03-17","s":"Lämpötila","t":0.5},{"d":"2012-03-19","s":"Lämpötila","t":1.3},{"d":"2012-03-21","s":"Lämpötila","t":5.9},{"d":"2012-03-23","s":"Lämpötila","t":3.8},{"d":"2012-03-24","s":"Lämpötila","t":2.6},{"d":"2012-03-26","s":"Lämpötila","t":5.9},{"d":"2012-03-28","s":"Lämpötila","t":3.8},{"d":"2012-03-30","s":"Lämpötila","t":0.95},{"d":"2012-03-31","s":"Lämpötila","t":-0.5},{"d":"2012-04-02","s":"Lämpötila","t":0},{"d":"2012-04-04","s":"Lämpötila","t":2.4},{"d":"2012-04-06","s":"Lämpötila","t":0.95},{"d":"2012-04-08","s":"Lämpötila","t":0.1},{"d":"2012-04-11","s":"Lämpötila","t":5.2},{"d":"2012-04-13","s":"Lämpötila","t":4.5},{"d":"2012-04-15","s":"Lämpötila","t":2.55},{"d":"2012-04-17","s":"Lämpötila","t":3.1},{"d":"2012-04-20","s":"Lämpötila","t":3.4},{"d":"2012-04-22","s":"Lämpötila","t":5.55},{"d":"2012-04-24","s":"Lämpötila","t":4.85},{"d":"2012-04-27","s":"Lämpötila","t":6.25},{"d":"2012-04-30","s":"Lämpötila","t":8.6},{"d":"2012-05-01","s":"Lämpötila","t":8.75},{"d":"2012-05-04","s":"Lämpötila","t":6.6},{"d":"2012-05-07","s":"Lämpötila","t":5.7},{"d":"2012-05-09","s":"Lämpötila","t":5.55},{"d":"2012-05-10","s":"Lämpötila","t":9.1},{"d":"2012-05-12","s":"Lämpötila","t":8.6},{"d":"2012-05-14","s":"Lämpötila","t":7.7},{"d":"2012-05-17","s":"Lämpötila","t":10.9},{"d":"2012-05-19","s":"Lämpötila","t":7.7},{"d":"2012-05-20","s":"Lämpötila","t":12.1},{"d":"2012-05-23","s":"Lämpötila","t":14.8},{"d":"2012-05-25","s":"Lämpötila","t":11.6},{"d":"2012-05-27","s":"Lämpötila","t":17.0},{"d":"2012-05-30","s":"Lämpötila","t":11.9},{"d":"2012-06-01","s":"Lämpötila","t":11.2},{"d":"2012-06-04","s":"Lämpötila","t":8.75},{"d":"2012-06-06","s":"Lämpötila","t":10.0},{"d":"2012-06-09","s":"Lämpötila","t":11.9},{"d":"2012-06-11","s":"Lämpötila","t":10.5},{"d":"2012-06-13","s":"Lämpötila","t":11.2},{"d":"2012-06-14","s":"Lämpötila","t":14.95},{"d":"2012-06-16","s":"Lämpötila","t":11.0},{"d":"2012-06-18","s":"Lämpötila","t":14.8},{"d":"2012-06-19","s":"Lämpötila","t":12.8},{"d":"2012-06-20","s":"Lämpötila","t":13.5},{"d":"2012-06-22","s":"Lämpötila","t":13.35},{"d":"2012-06-24","s":"Lämpötila","t":11.75},{"d":"2012-06-26","s":"Lämpötila","t":13.0},{"d":"2012-06-28","s":"Lämpötila","t":11.4},{"d":"2012-06-30","s":"Lämpötila","t":14.05},{"d":"2012-07-02","s":"Lämpötila","t":12.1},{"d":"2012-07-04","s":"Lämpötila","t":15.5},{"d":"2012-07-05","s":"Lämpötila","t":14.4},{"d":"2012-07-09","s":"Lämpötila","t":18.65},{"d":"2012-07-12","s":"Lämpötila","t":16.5},{"d":"2012-07-14","s":"Lämpötila","t":15.6},{"d":"2012-07-15","s":"Lämpötila","t":16.5},{"d":"2012-07-17","s":"Lämpötila","t":15.6},{"d":"2012-07-19","s":"Lämpötila","t":15.3},{"d":"2012-07-21","s":"Lämpötila","t":15.1},{"d":"2012-07-23","s":"Lämpötila","t":16.35},{"d":"2012-07-26","s":"Lämpötila","t":14.6},{"d":"2012-07-28","s":"Lämpötila","t":16.7},{"d":"2012-07-31","s":"Lämpötila","t":18.1},{"d":"2012-08-01","s":"Lämpötila","t":20.1},{"d":"2012-08-03","s":"Lämpötila","t":17.2},{"d":"2012-08-05","s":"Lämpötila","t":16.5},{"d":"2012-08-08","s":"Lämpötila","t":17.8},{"d":"2012-08-12","s":"Lämpötila","t":16.35},{"d":"2012-08-14","s":"Lämpötila","t":13.2},{"d":"2012-08-15","s":"Lämpötila","t":13.2},{"d":"2012-08-18","s":"Lämpötila","t":16.7},{"d":"2012-08-20","s":"Lämpötila","t":17.95},{"d":"2012-08-23","s":"Lämpötila","t":17.6},{"d":"2012-08-24","s":"Lämpötila","t":14.4},{"d":"2012-08-26","s":"Lämpötila","t":17.2},{"d":"2012-08-29","s":"Lämpötila","t":12.3},{"d":"2012-08-30","s":"Lämpötila","t":15.5},{"d":"2012-08-31","s":"Lämpötila","t":16.5},{"d":"2012-09-02","s":"Lämpötila","t":13.5},{"d":"2012-09-04","s":"Lämpötila","t":16.0},{"d":"2012-09-06","s":"Lämpötila","t":14.9},{"d":"2012-09-07","s":"Lämpötila","t":15.8},{"d":"2012-09-09","s":"Lämpötila","t":14.8},{"d":"2012-09-12","s":"Lämpötila","t":11.2},{"d":"2012-09-13","s":"Lämpötila","t":11.0},{"d":"2012-09-14","s":"Lämpötila","t":7.3},{"d":"2012-09-15","s":"Lämpötila","t":15.5},{"d":"2012-09-16","s":"Lämpötila","t":16.0},{"d":"2012-09-18","s":"Lämpötila","t":12.45},{"d":"2012-09-20","s":"Lämpötila","t":13.5},{"d":"2012-09-21","s":"Lämpötila","t":13.0},{"d":"2012-09-22","s":"Lämpötila","t":13.9},{"d":"2012-09-25","s":"Lämpötila","t":12.45},{"d":"2012-09-27","s":"Lämpötila","t":11.6},{"d":"2012-09-30","s":"Lämpötila","t":8.4},{"d":"2012-10-02","s":"Lämpötila","t":12.8},{"d":"2012-10-05","s":"Lämpötila","t":11.4},{"d":"2012-10-08","s":"Lämpötila","t":12.8},{"d":"2012-10-10","s":"Lämpötila","t":11.9},{"d":"2012-10-12","s":"Lämpötila","t":9.3},{"d":"2012-10-15","s":"Lämpötila","t":7.15},{"d":"2012-10-17","s":"Lämpötila","t":7.0},{"d":"2012-10-19","s":"Lämpötila","t":5.2},{"d":"2012-10-22","s":"Lämpötila","t":10.5},{"d":"2012-10-25","s":"Lämpötila","t":11.75},{"d":"2012-10-28","s":"Lämpötila","t":9.1},{"d":"2012-10-29","s":"Lämpötila","t":5.9},{"d":"2012-11-01","s":"Lämpötila","t":0},{"d":"2012-11-02","s":"Lämpötila","t":-2},{"d":"2012-11-03","s":"Lämpötila","t":-1.5},{"d":"2012-11-04","s":"Lämpötila","t":3.8},{"d":"2012-11-06","s":"Lämpötila","t":4.15},{"d":"2012-11-09","s":"Lämpötila","t":7.3},{"d":"2012-11-12","s":"Lämpötila","t":5.2},{"d":"2012-11-13","s":"Lämpötila","t":2.7},{"d":"2012-11-14","s":"Lämpötila","t":4.15},{"d":"2012-11-15","s":"Lämpötila","t":3.1},{"d":"2012-11-16","s":"Lämpötila","t":1.3},{"d":"2012-11-17","s":"Lämpötila","t":6.25},{"d":"2012-11-19","s":"Lämpötila","t":7.0},{"d":"2012-11-20","s":"Lämpötila","t":4.7},{"d":"2012-11-21","s":"Lämpötila","t":8.2},{"d":"2012-11-23","s":"Lämpötila","t":6.6},{"d":"2012-11-25","s":"Lämpötila","t":7.5},{"d":"2012-11-26","s":"Lämpötila","t":5.9},{"d":"2012-11-28","s":"Lämpötila","t":7.7},{"d":"2012-11-30","s":"Lämpötila","t":7.15},{"d":"2012-12-02","s":"Lämpötila","t":6.45}
]
},
"encoding":{
 "x":{"field":"d","type":"temporal",
  "scale":{"type":"utc","domain":[{"year":2012,"month":2,"date":25,"utc":true},{"year":2012,"month":12,"date":6,"utc":true}]},
  "axis":{"title":null,"grid":true,"gridColor":"#d9d9d9","gridWidth":1.5,"labelAngle":45,"labelAlign":"left","labelBaseline":"middle","labelPadding":6,"labelOverlap":false,"labelFlush":false,"labelFontSize":16,
   "labelExpr":"utcFormat(datum.value,'%d.%m.%Y')",
   "values":[{"year":2012,"month":2,"date":25,"utc":true},{"year":2012,"month":3,"date":11,"utc":true},{"year":2012,"month":3,"date":26,"utc":true},{"year":2012,"month":4,"date":10,"utc":true},{"year":2012,"month":4,"date":25,"utc":true},{"year":2012,"month":5,"date":10,"utc":true},{"year":2012,"month":5,"date":25,"utc":true},{"year":2012,"month":6,"date":9,"utc":true},{"year":2012,"month":6,"date":24,"utc":true},{"year":2012,"month":7,"date":9,"utc":true},{"year":2012,"month":7,"date":24,"utc":true},{"year":2012,"month":8,"date":8,"utc":true},{"year":2012,"month":8,"date":23,"utc":true},{"year":2012,"month":9,"date":7,"utc":true},{"year":2012,"month":9,"date":22,"utc":true},{"year":2012,"month":10,"date":7,"utc":true},{"year":2012,"month":10,"date":22,"utc":true},{"year":2012,"month":11,"date":6,"utc":true},{"year":2012,"month":11,"date":21,"utc":true}]}}
},
"layer":[
 {"data":{"name":"lvl"},
  "mark":{"type":"line","strokeWidth":3.5,"strokeJoin":"round","strokeCap":"round"},
  "encoding":{
   "y":{"field":"v","type":"quantitative","scale":{"domain":[10,13],"zero":false,"nice":false},
    "axis":{"orient":"left","values":[10,10.5,11,11.5,12,12.5,13],"format":".1f","grid":true,"gridColor":"#a6a6a6","gridWidth":1.5,"labelPadding":10,
     "title":"Veden pinta (m mpy)","titleAngle":270,"titleX":-59,"titleY":288,"titleAlign":"center","titleBaseline":"alphabetic"}},
   "color":{"field":"s","type":"nominal",
    "scale":{"domain":["Sademäärä","Balt1","MV904","MV304","MV1004","PR2/04","Lämpötila"],"range":["#000000","#33cc33","#e0883c","#4599b0","#ff00ff","#7030a0","#0000ff"]},
    "legend":{"orient":"none","legendX":-29,"legendY":672,"direction":"horizontal","title":null,"symbolType":"stroke","symbolSize":1600,"symbolStrokeWidth":4,"labelFontSize":16,"labelOffset":9,"columnPadding":30,
     "encode":{
      "symbols":{"update":{
        "shape":{"signal":"datum.value==='Sademäärä'?'M-1,-0.25H0.9V0.25H-1Z':'stroke'"},
        "fill":{"signal":"datum.value==='Sademäärä'?'#000000':'transparent'"},
        "stroke":{"signal":"scale('color',datum.value)"},
        "strokeWidth":{"signal":"datum.value==='Sademäärä'?0:(datum.value==='Lämpötila'?2.5:4)"},
        "strokeDash":{"signal":"datum.value==='Lämpötila'?[5,3]:[1,0]"},
        "opacity":{"value":1}}},
      "labels":{"update":{"fill":{"signal":"datum.value==='Lämpötila'?'#0000ff':'#000000'"}}}}}}}},
 {"data":{"name":"rain"},
  "mark":{"type":"bar","size":3.5,"color":"#000000"},
  "encoding":{
   "y":{"field":"p","type":"quantitative","scale":{"domain":[0,60],"nice":false},
    "axis":{"orient":"right","values":[0,10,20,30,40,50,60],"grid":false,"labelPadding":4,
     "title":"Sademäärä  (P, mm) ja","titleAngle":270,"titleX":58,"titleY":468,"titleAlign":"left","titleBaseline":"alphabetic"}},
   "color":{"field":"s","type":"nominal","scale":{"domain":["Sademäärä","Balt1","MV904","MV304","MV1004","PR2/04","Lämpötila"],"range":["#000000","#33cc33","#e0883c","#4599b0","#ff00ff","#7030a0","#0000ff"]}}}},
 {"data":{"name":"temp"},
  "mark":{"type":"line","strokeWidth":2.5,"strokeDash":[6,3],"clip":true,"interpolate":"monotone"},
  "encoding":{
   "y":{"field":"t","type":"quantitative","scale":{"domain":[0,60],"nice":false},
    "axis":{"orient":"right","labels":false,"ticks":false,"domain":false,"grid":false,
     "title":"Lämpötila (T, ºC)","titleColor":"#0000ff","titleAngle":270,"titleX":58,"titleY":271,"titleAlign":"left","titleBaseline":"alphabetic"}},
   "color":{"field":"s","type":"nominal","scale":{"domain":["Sademäärä","Balt1","MV904","MV304","MV1004","PR2/04","Lämpötila"],"range":["#000000","#33cc33","#e0883c","#4599b0","#ff00ff","#7030a0","#0000ff"]}}}}
],
"resolve":{"scale":{"y":"independent"},"axis":{"y":"independent"}}
}
